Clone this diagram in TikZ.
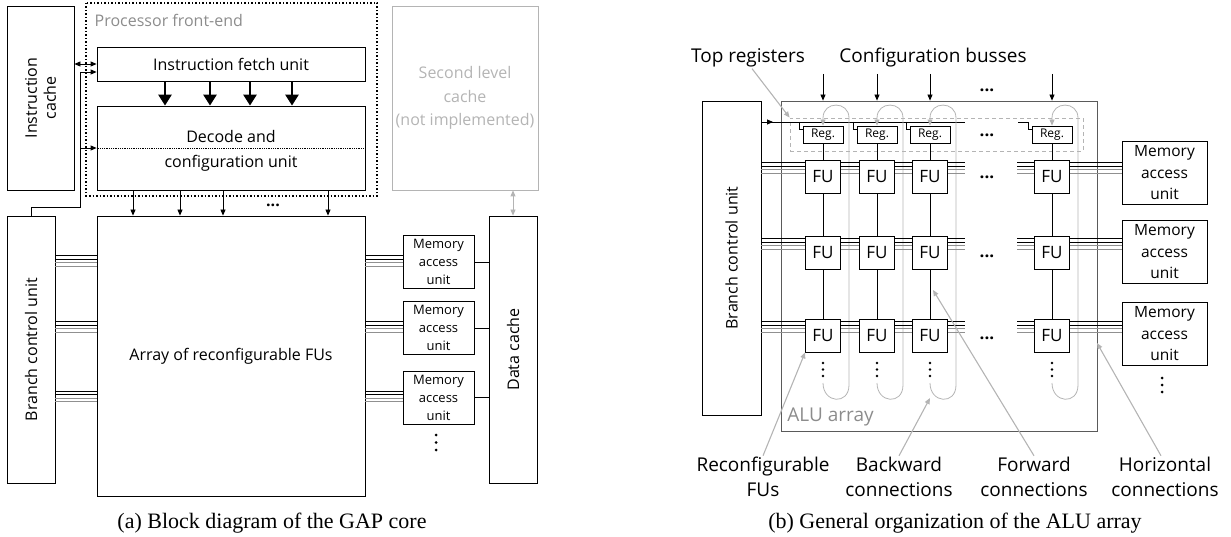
\documentclass[tikz,border=0pt]{standalone}
\usepackage{fontspec}
\setmainfont{Liberation Serif}
\setsansfont{Open Sans}
\usetikzlibrary{arrows.meta,calc}
\definecolor{gapgray}{HTML}{8C8C8C}
\definecolor{gapsilver}{HTML}{B4B4B4}
\definecolor{gapdark}{HTML}{5A5A5A}
\definecolor{gapbus}{HTML}{909090}

\begin{document}
\begin{tikzpicture}[x=1pt,y=-1pt,line width=0.8pt,
  >={Triangle[length=6pt,width=5pt]},
  box/.style={draw,inner sep=0pt,align=center},
  bigtxt/.style={font=\sffamily\fontsize{16}{19}\selectfont},
  lbltxt/.style={font=\sffamily\fontsize{19}{25}\selectfont,align=center,inner sep=1pt},
  futxt/.style={font=\sffamily\fontsize{17}{20}\selectfont},
  regtxt/.style={font=\sffamily\fontsize{12}{14}\selectfont},
  mautxt/.style={font=\sffamily\fontsize{15.5}{21.5}\selectfont},
  smalltxt/.style={font=\sffamily\fontsize{13}{18}\selectfont},
  captxt/.style={font=\rmfamily\fontsize{22}{26}\selectfont},
  dot/.style={fill,circle,inner sep=0pt,minimum size=3pt}]
\useasboundingbox (0,0) rectangle (1231,537);

% (a) block diagram
\node[box,minimum width=67pt,minimum height=184pt] (icache) at (40.5,98) {};
\node[bigtxt,rotate=90,align=center] (icachelbl) at (icache) {Instruction\\cache};
\draw[line width=1.2pt,dash pattern=on 1.5pt off 2pt] (86,3) rectangle (377,196);
\node[bigtxt,text=gapgray,anchor=west] (felbl) at (91,20) {Processor front-end};
\node[box,bigtxt,minimum width=268pt,minimum height=34pt] (fetch) at (231,64) {Instruction fetch unit};
\node[box,minimum width=268pt,minimum height=84pt] (decode) at (231,148) {};
\draw[densely dotted] (decode.west) -- (decode.east);
\node[bigtxt] (declbl1) at (231,137) {Decode and};
\node[bigtxt] (declbl2) at (231,163) {configuration unit};
\node[box,draw=gapsilver,text=gapsilver,minimum width=146pt,minimum height=184pt,
      font=\sffamily\fontsize{16}{23.5}\selectfont] (l2cache) at (465,98)
      {Second level\\cache\\(not implemented)};

\node[box,minimum width=48pt,minimum height=267pt] (branch) at (31,349.5) {};
\node[bigtxt,rotate=90] (branchlbl) at (branch) {Branch control unit};
\node[box,bigtxt,minimum width=268pt,minimum height=280pt] (array) at (231,356) {Array of reconfigurable FUs};
\node[box,minimum width=48pt,minimum height=267pt] (dcache) at (513,349.5) {};
\node[bigtxt,rotate=90] (dcachelbl) at (dcache) {Data cache};

\foreach \x in {165,210,250,292}
  \draw[-{Triangle[length=11pt,width=13pt]},line width=2.6pt] (fetch.south -| \x,0) -- (decode.north -| \x,0);
\foreach \x in {133,180,223,328}
  \draw[->] (decode.south -| \x,0) -- (array.north -| \x,0);
\node[bigtxt,font=\sffamily\bfseries\fontsize{16}{19}\selectfont] (adots) at (273,205) {...};

\draw[<->] (icache.east |- fetch.west) -- (fetch.west);
\coordinate (bknee) at (80,207);
\draw[->] (branch.north) |- (bknee) |- ([yshift=-8pt]fetch.west);
\draw[->] (bknee |- decode.west) -- (decode.west);
\draw[<->,gapsilver] (dcache.north) -- (dcache.north |- l2cache.south);

\foreach \m/\yc in {1/262,2/328,3/397.5} {
  \node[box,smalltxt,minimum width=71pt,minimum height=53pt] (mau\m) at (438.5,\yc) {Memory\\access\\unit};
  \draw (mau\m.east) -- (mau\m.east -| dcache.west);
  \foreach \o/\c in {-6.5/black,-3/black,0.5/gapbus,4/gapbus} {
    \draw[\c,line width=0.7pt] ($(branch.east |- mau\m.west)+(0,\o)$) -- ($(array.west |- mau\m.west)+(0,\o)$);
    \draw[\c,line width=0.7pt] ($(array.east |- mau\m.west)+(0,\o)$) -- ($(mau\m.west)+(0,\o)$);
  }
}
\foreach \y in {435,442.5,450} \node[dot] at (436,\y) {};

% (b) ALU array
\node[box,minimum width=59pt,minimum height=314pt] (rbranch) at (731.5,258) {};
\node[bigtxt,rotate=90] (rbranchlbl) at (rbranch) {Branch control unit};
\node[box,draw=gapdark,minimum width=316pt,minimum height=330pt] (alu) at (939,266) {};
\node[lbltxt,text=gapgray,anchor=west] (alulbl) at (786,417) {ALU array};
\node[lbltxt] (toplbl) at (748,58) {Top registers};
\node[lbltxt] (cfglbl) at (933,58) {Configuration busses};
\node[draw=gapsilver,dash pattern=on 4pt off 3pt,minimum width=293pt,minimum height=33pt] (regrow) at (936.5,134.5) {};
\draw[->,gapsilver,line width=1.1pt] ([xshift=4pt]toplbl.south) -- (regrow.north west);

\coordinate (hl) at (761,122);
\coordinate (hlend) at (965,122);
\coordinate (hl4) at (1018,122);
\draw (hl) -- (hlend);
\draw[->] (hl) -- ++(12,0);

\foreach \i/\x in {1/823,2/877,3/930,4/1052} {
  \coordinate (cb\i) at (\x,74);
  \draw[->] (cb\i) -- (alu.north -| cb\i);
  \node[box,regtxt,minimum width=40pt,minimum height=17pt] (reg\i) at (\x,134.5) {Reg.};
  \foreach \j/\y in {1/176.5,2/252.5,3/335.5}
    \node[box,futxt,minimum width=35pt,minimum height=33pt] (fu\i\j) at (\x,\y) {FU};
  \draw (reg\i) -- (fu\i1);
  \draw (fu\i1) -- (fu\i2);
  \draw (fu\i2) -- (fu\i3);
  \foreach \y in {363,369.5,376} \node[dot,minimum size=2.8pt] at (\x,\y) {};
  \draw[->,gapsilver] (\x,383) to[out=-90,in=-90,looseness=2] (\x+26,385)
     -- (\x+26,118) to[out=90,in=90,looseness=1.7] (\x,118) -- (reg\i.north);
}
\foreach \i in {1,2,3}
  \draw (reg\i.north west |- hl) ++(-3,0) |- ([yshift=-4pt]reg\i.north west);
\draw (hl4) -- ++(10,0) |- ([yshift=-4pt]reg4.north west);

\node[lbltxt,font=\sffamily\bfseries\fontsize{17}{20}\selectfont] (cbdots) at (987,90) {...};
\node[lbltxt,font=\sffamily\bfseries\fontsize{17}{20}\selectfont] (regdots) at (987,135) {...};
\coordinate (gapl) at (965,0);
\coordinate (gapr) at (1017,0);
\foreach \j/\y in {1/173,2/252,3/334} {
  \node[box,mautxt,minimum width=85pt,minimum height=63pt] (rmau\j) at (1164.5,\y) {Memory\\access\\unit};
  \node[lbltxt,font=\sffamily\bfseries\fontsize{17}{20}\selectfont] (fudots\j) at (987,\y+4) {...};
  \foreach \o/\c in {-14/black,-10.5/black,-7/gapbus,-3.5/gapbus} {
    \draw[\c,line width=0.7pt] ($(rbranch.east |- fu1\j.west)+(0,\o)$) -- ($(fu1\j.west)+(0,\o)$);
    \draw[\c,line width=0.7pt] ($(fu1\j.east)+(0,\o)$) -- ($(fu2\j.west)+(0,\o)$);
    \draw[\c,line width=0.7pt] ($(fu2\j.east)+(0,\o)$) -- ($(fu3\j.west)+(0,\o)$);
    \draw[\c,line width=0.7pt] ($(fu3\j.east)+(0,\o)$) -- ($(gapl |- fu3\j.east)+(0,\o)$);
    \draw[\c,line width=0.7pt] ($(gapr |- fu4\j.west)+(0,\o)$) -- ($(fu4\j.west)+(0,\o)$);
    \draw[\c,line width=0.7pt] ($(fu4\j.east)+(0,\o)$) -- ($(rmau\j.west |- fu4\j.east)+(0,\o)$);
  }
}
\foreach \y in {378,385,392} \node[dot] at (1162,\y) {};

\node[lbltxt] (recfu) at (763,477) {Reconfigurable\\FUs};
\node[lbltxt] (bwd) at (899,477) {Backward\\connections};
\node[lbltxt] (fwd) at (1034,477) {Forward\\connections};
\node[lbltxt] (hor) at (1165,477) {Horizontal\\connections};
\coordinate (bwdtip) at (930,398);
\coordinate (fwdtip) at (933,290);
\coordinate (hortip) at (1097,343);
\draw[->,gapsilver,line width=1.1pt] (recfu.north) -- (fu13.south west);
\draw[->,gapsilver,line width=1.1pt] (bwd.north) -- (bwdtip);
\draw[->,gapsilver,line width=1.1pt] (fwd.north) -- (fwdtip);
\draw[->,gapsilver,line width=1.1pt] ([xshift=-4pt]hor.north) -- (hortip);

\node[captxt] (capa) at (272,523) {(a) Block diagram of the GAP core};
\node[captxt] (capb) at (955,523) {(b) General organization of the ALU array};
\end{tikzpicture}
\end{document}
